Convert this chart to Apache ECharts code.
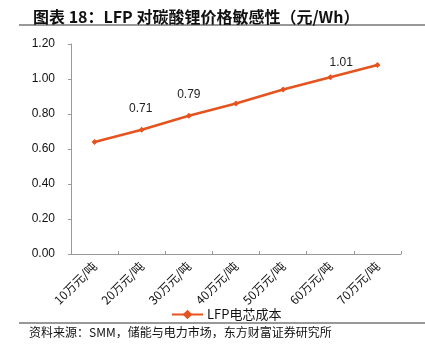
<!DOCTYPE html>
<html><head><meta charset="utf-8">
<script src="https://cdn.jsdelivr.net/npm/echarts@6/dist/echarts.min.js"></script>
<style>html,body{margin:0;padding:0;background:#fff}#c{width:425px;height:346px}</style>
</head><body><div id="c"></div>
<script>
const titleText = '图表 18：LFP 对碳酸锂价格敏感性（元/Wh）';
const sourceText = '资料来源：SMM，储能与电力市场，东方财富证券研究所';
const seriesName = 'LFP电芯成本';
const categories = ['10万元/吨','20万元/吨','30万元/吨','40万元/吨','50万元/吨','60万元/吨','70万元/吨'];
const costValues = [0.64, 0.71, 0.79, 0.86, 0.94, 1.01, 1.08];
const labeledIndices = [1, 2, 5];
const yTicks = [0, 0.2, 0.4, 0.6, 0.8, 1.0, 1.2];

const color = '#E5531F';
const font = '"Liberation Sans", Arial, "Noto Sans CJK SC", sans-serif';
const labelOffsets = {1: [-1, -7], 2: [0, -7], 5: [11, -1]};

const data = costValues.map((v, i) => {
  const d = {value: v};
  if (labeledIndices.includes(i)) {
    d.label = {show: true, position: 'top', offset: labelOffsets[i], formatter: v.toFixed(2),
      color: '#222', fontSize: 12, fontFamily: font};
  }
  return d;
});

const chart = echarts.init(document.getElementById('c'), null, {renderer: 'canvas'});
chart.setOption({
  animation: false,
  backgroundColor: '#fff',
  title: {
    text: titleText, left: 28, top: 4,
    textStyle: {fontSize: 16, fontWeight: 'bold', color: '#111', fontFamily: '"Noto Sans CJK SC", sans-serif'}
  },
  graphic: [
    {type: 'line', shape: {x1: 19, y1: 25, x2: 425, y2: 25}, style: {stroke: '#333', lineWidth: 1}},
    {type: 'line', shape: {x1: 19, y1: 323, x2: 425, y2: 323}, style: {stroke: '#333', lineWidth: 1}},
    {type: 'text', left: 29, top: 326, style: {text: sourceText, fontSize: 12, fill: '#111', fontFamily: '"Noto Sans CJK SC", sans-serif'}}
  ],
  legend: {
    data: [seriesName], left: 166, top: 303, itemWidth: 31, itemHeight: 12, itemGap: 4,
    textStyle: {fontSize: 13, color: '#111', fontFamily: '"Noto Sans CJK SC", sans-serif', padding: [0,0,0,-1]}
  },
  grid: {left: 71, right: 24, top: 44, bottom: 92, containLabel: false},
  xAxis: {
    type: 'category', data: categories, boundaryGap: true,
    axisLine: {lineStyle: {color: '#999'}},
    axisTick: {show: true, inside: true, length: 3, alignWithLabel: false, lineStyle: {color: '#999'}},
    axisLabel: {rotate: 45, fontSize: 12, color: '#111', margin: 10, interval: 0, fontFamily: '"Noto Sans CJK SC", sans-serif'},
    splitLine: {show: false}
  },
  yAxis: {
    type: 'value', min: yTicks[0], max: yTicks[yTicks.length - 1], interval: 0.2,
    axisLine: {show: true, lineStyle: {color: '#999'}},
    axisTick: {show: true, length: 3, lineStyle: {color: '#999'}},
    axisLabel: {fontSize: 12, color: '#111', margin: 16, fontFamily: font, formatter: v => v.toFixed(2)},
    splitLine: {show: false}
  },
  series: [{
    name: seriesName, type: 'line', data: data,
    symbol: 'diamond', symbolSize: 6,
    lineStyle: {color: color, width: 2.5},
    itemStyle: {color: color},
    label: {show: false}
  }]
});
</script></body></html>
